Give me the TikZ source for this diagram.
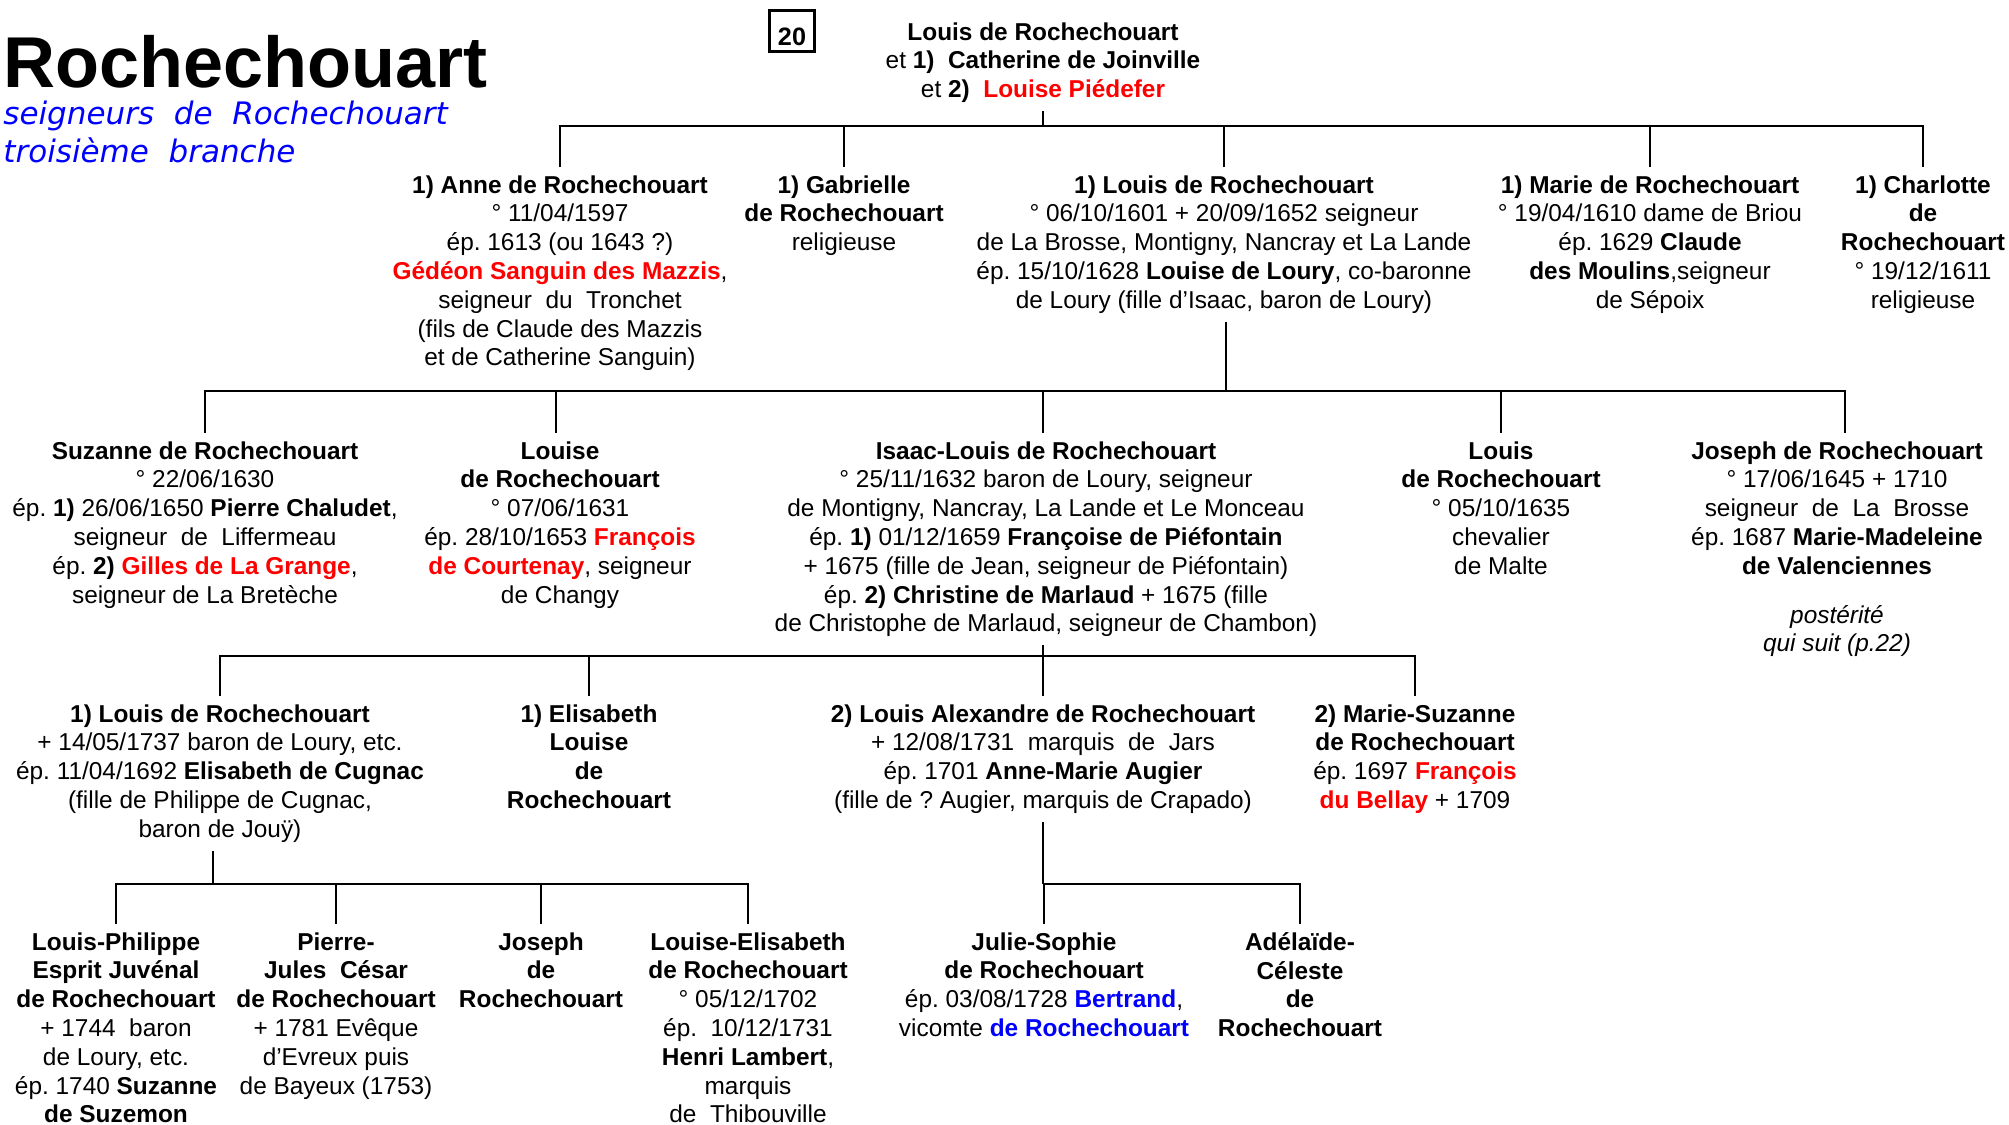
\documentclass[tikz,border=0pt]{standalone}
\usepackage{fontspec}
\setmainfont{Liberation Sans}
\newfontfamily\subfont{DejaVu Sans}
\usepackage{tikz}
\definecolor{fRed}{HTML}{FF0000}
\definecolor{fBlue}{HTML}{0000FF}
\frenchspacing

\begin{document}
\begin{tikzpicture}[
  x=0.5pt, y=-0.5pt,
  person/.style={font=\fontsize{12.2}{14.4}\selectfont, align=center, anchor=north, inner xsep=0pt, inner ysep=4pt},
  link/.style={line width=1.3pt},
]
  \useasboundingbox (0,0) rectangle (2009,1125);

  \node[anchor=base west, inner sep=0pt, font=\bfseries\fontsize{36}{40}\selectfont] (title) at (3,87) {Rochechouart};
  \node[anchor=base west, inner sep=0pt, text=fBlue, font=\subfont\itshape\fontsize{15.5}{18}\selectfont] (sub1) at (3,124) {seigneurs~ de~ Rochechouart};
  \node[anchor=base west, inner sep=0pt, text=fBlue, font=\subfont\itshape\fontsize{15.5}{18}\selectfont] (sub2) at (3,162) {troisième~ branche};
  \node[draw, line width=1.3pt, minimum width=22.5pt, minimum height=20.5pt, inner sep=0pt, text height=14pt, text depth=0pt, font=\bfseries\fontsize{12.6}{14}\selectfont] (num) at (792,31) {20};

  \node[person] (top) at (1043,14)
    {\textbf{Louis de Rochechouart}\\
     et \textbf{1)~ Catherine de Joinville}\\
     et \textbf{2)}~ {\color{fRed}\textbf{Louise Piédefer}}};

  \node[person] (anne) at (560,167)
    {\textbf{1) Anne de Rochechouart}\\
     ° 11/04/1597\\
     ép. 1613 (ou 1643 ?)\\
     {\color{fRed}\textbf{Gédéon Sanguin des Mazzis}},\\
     seigneur~ du~ Tronchet\\
     (fils de Claude des Mazzis\\
     et de Catherine Sanguin)};
  \node[person] (gabrielle) at (844,167)
    {\textbf{1) Gabrielle}\\
     \textbf{de Rochechouart}\\
     religieuse};
  \node[person] (louisA) at (1224,167)
    {\textbf{1) Louis de Rochechouart}\\
     ° 06/10/1601 + 20/09/1652 seigneur\\
     de La Brosse, Montigny, Nancray et La Lande\\
     ép. 15/10/1628 \textbf{Louise de Loury}, co-baronne\\
     de Loury (fille d’Isaac, baron de Loury)};
  \node[person] (marie) at (1650,167)
    {\textbf{1) Marie de Rochechouart}\\
     ° 19/04/1610 dame de Briou\\
     ép. 1629 \textbf{Claude}\\
     \textbf{des Moulins},seigneur\\
     de Sépoix};
  \node[person] (charlotte) at (1923,167)
    {\textbf{1) Charlotte}\\
     \textbf{de}\\
     \textbf{Rochechouart}\\
     ° 19/12/1611\\
     religieuse};

  \node[person] (suzanne) at (205,433)
    {\textbf{Suzanne de Rochechouart}\\
     ° 22/06/1630\\
     ép. \textbf{1)} 26/06/1650 \textbf{Pierre Chaludet},\\
     seigneur~ de~ Liffermeau\\
     ép. \textbf{2)} {\color{fRed}\textbf{Gilles de La Grange}},\\
     seigneur de La Bretèche};
  \node[person] (louiseB) at (560,433)
    {\textbf{Louise}\\
     \textbf{de Rochechouart}\\
     ° 07/06/1631\\
     ép. 28/10/1653 {\color{fRed}\textbf{François}}\\
     {\color{fRed}\textbf{de Courtenay}}, seigneur\\
     de Changy};
  \node[person] (isaac) at (1046,433)
    {\textbf{Isaac-Louis de Rochechouart}\\
     ° 25/11/1632 baron de Loury, seigneur\\
     de Montigny, Nancray, La Lande et Le Monceau\\
     ép. \textbf{1)} 01/12/1659 \textbf{Françoise de Piéfontain}\\
     + 1675 (fille de Jean, seigneur de Piéfontain)\\
     ép. \textbf{2) Christine de Marlaud} + 1675 (fille\\
     de Christophe de Marlaud, seigneur de Chambon)};
  \node[person] (louisB) at (1501,433)
    {\textbf{Louis}\\
     \textbf{de Rochechouart}\\
     ° 05/10/1635\\
     chevalier\\
     de Malte};
  \node[person] (joseph) at (1837,433)
    {\textbf{Joseph de Rochechouart}\\
     ° 17/06/1645 + 1710\\
     seigneur~ de~ La~ Brosse\\
     ép. 1687 \textbf{Marie-Madeleine}\\
     \textbf{de Valenciennes}\\[10pt]
     \textit{postérité}\\
     \textit{qui suit (p.22)}};

  \node[person] (louisC) at (220,696)
    {\textbf{1) Louis de Rochechouart}\\
     + 14/05/1737 baron de Loury, etc.\\
     ép. 11/04/1692 \textbf{Elisabeth de Cugnac}\\
     (fille de Philippe de Cugnac,\\
     baron de Jouÿ)};
  \node[person] (elisabeth) at (589,696)
    {\textbf{1) Elisabeth}\\
     \textbf{Louise}\\
     \textbf{de}\\
     \textbf{Rochechouart}};
  \node[person] (louisAlex) at (1043,696)
    {\textbf{2) Louis Alexandre de Rochechouart}\\
     + 12/08/1731~ marquis~ de~ Jars\\
     ép. 1701 \textbf{Anne-Marie Augier}\\
     (fille de ? Augier, marquis de Crapado)};
  \node[person] (marieSuz) at (1415,696)
    {\textbf{2) Marie-Suzanne}\\
     \textbf{de Rochechouart}\\
     ép. 1697 {\color{fRed}\textbf{François}}\\
     {\color{fRed}\textbf{du Bellay}} + 1709};

  \node[person] (lphil) at (116,924)
    {\textbf{Louis-Philippe}\\
     \textbf{Esprit Juvénal}\\
     \textbf{de Rochechouart}\\
     + 1744~ baron\\
     de Loury, etc.\\
     ép. 1740 \textbf{Suzanne}\\
     \textbf{de Suzemon}};
  \node[person] (pierre) at (336,924)
    {\textbf{Pierre-}\\
     \textbf{Jules~ César}\\
     \textbf{de Rochechouart}\\
     + 1781 Evêque\\
     d’Evreux puis\\
     de Bayeux (1753)};
  \node[person] (josephB) at (541,924)
    {\textbf{Joseph}\\
     \textbf{de}\\
     \textbf{Rochechouart}};
  \node[person] (lelis) at (748,924)
    {\textbf{Louise-Elisabeth}\\
     \textbf{de Rochechouart}\\
     ° 05/12/1702\\
     ép.~ 10/12/1731\\
     \textbf{Henri Lambert},\\
     marquis\\
     de~ Thibouville};
  \node[person] (julie) at (1044,924)
    {\textbf{Julie-Sophie}\\
     \textbf{de Rochechouart}\\
     ép. 03/08/1728 {\color{fBlue}\textbf{Bertrand}},\\
     vicomte {\color{fBlue}\textbf{de Rochechouart}}};
  \node[person] (adelaide) at (1300,924)
    {\textbf{Adélaïde-}\\
     \textbf{Céleste}\\
     \textbf{de}\\
     \textbf{Rochechouart}};

  \coordinate (bar1) at (1043,126);
  \coordinate (bar2) at (1226,391);
  \coordinate (bar3) at (1043,656);
  \coordinate (bar4a) at (213,884);
  \coordinate (bar4b) at (1043,884);

  \draw[link] (top.south) -- (top.south |- bar1);
  \draw[link] (anne.north) |- (bar1) -| (charlotte.north);
  \draw[link] (gabrielle.north) -- (gabrielle.north |- bar1);
  \draw[link] (louisA.north) -- (louisA.north |- bar1);
  \draw[link] (marie.north) -- (marie.north |- bar1);

  \draw[link] (bar2 |- louisA.south) -- (bar2);
  \draw[link] (suzanne.north) |- (bar2) -| ([xshift=4pt]joseph.north);
  \draw[link] ([xshift=-2pt]louiseB.north) -- ([xshift=-2pt]louiseB.north |- bar2);
  \draw[link] (bar3 |- isaac.north) -- (bar3 |- bar2);
  \draw[link] (louisB.north) -- (louisB.north |- bar2);

  \draw[link] (bar3 |- isaac.south) -- (bar3);
  \draw[link] (louisC.north) |- (bar3) -| (marieSuz.north);
  \draw[link] (elisabeth.north) -- (elisabeth.north |- bar3);
  \draw[link] (louisAlex.north) -- (louisAlex.north |- bar3);

  \draw[link] (bar4a |- louisC.south) -- (bar4a);
  \draw[link] (lphil.north) |- (bar4a) -| (lelis.north);
  \draw[link] (pierre.north) -- (pierre.north |- bar4a);
  \draw[link] (josephB.north) -- (josephB.north |- bar4a);

  \draw[link] (louisAlex.south) -- (louisAlex.south |- bar4b);
  \draw[link] (julie.north) |- (bar4b) -| (adelaide.north);
\end{tikzpicture}
\end{document}
